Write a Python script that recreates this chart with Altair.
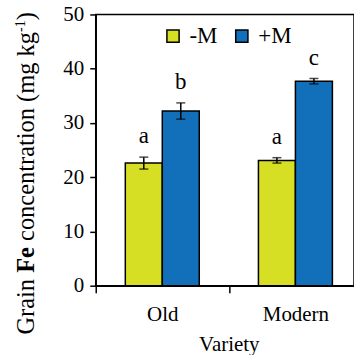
import altair as alt
import pandas as pd

# ---- data ----
varieties = ["Old", "Old", "Modern", "Modern"]
treatments = ["-M", "+M", "-M", "+M"]
values = [22.6, 32.2, 23.1, 37.7]
errors = [1.1, 1.5, 0.5, 0.5]
letters = ["a", "b", "a", "c"]
variety_order = ["Old", "Modern"]
treatment_order = ["-M", "+M"]
y_ticks = [0, 10, 20, 30, 40, 50]
colors = ["#d6df24", "#1170b9"]

df = pd.DataFrame({
    "variety": varieties,
    "treatment": treatments,
    "value": values,
    "err": errors,
    "letter": letters,
})
df["lo"] = df["value"] - df["err"]
df["hi"] = df["value"] + df["err"]

FONT = "Liberation Serif"
W, H = 259, 272

x_enc = alt.X(
    "variety:N",
    sort=variety_order,
    scale=alt.Scale(range=[0, 267], paddingInner=0, paddingOuter=0),
    axis=alt.Axis(
        title="Variety",
        labelAngle=0,
        tickBand="extent",
        tickSize=7,
        tickWidth=1.5,
        tickColor="black",
        domainColor="black",
        domainWidth=1.5,
        labelFont=FONT,
        labelFontSize=21,
        labelColor="black",
        labelPadding=11,
        titleFont=FONT,
        titleFontSize=21,
        titleFontWeight="normal",
        titleColor="black",
        titlePadding=9,
    ),
)
xoff_enc = alt.XOffset(
    "treatment:N",
    sort=treatment_order,
    scale=alt.Scale(paddingInner=0, paddingOuter=0.8),
)
y_scale = alt.Scale(domain=[0, 50], nice=False)

base = alt.Chart(df)

bars = base.mark_bar(stroke="black", strokeWidth=1.5).encode(
    x=x_enc,
    xOffset=xoff_enc,
    y=alt.Y(
        "value:Q",
        scale=y_scale,
        axis=alt.Axis(
            values=y_ticks,
            title=None,
            grid=False,
            tickSize=6,
            tickWidth=1.5,
            tickColor="black",
            domainColor="black",
            domainWidth=1.5,
            labelFont=FONT,
            labelFontSize=21,
            labelColor="black",
            labelPadding=6,
        ),
    ),
    color=alt.Color(
        "treatment:N",
        sort=treatment_order,
        scale=alt.Scale(domain=treatment_order, range=colors),
        legend=alt.Legend(
            orient="none",
            legendX=66,
            legendY=10,
            direction="horizontal",
            title=None,
            symbolType="square",
            symbolSize=150,
            symbolStrokeColor="black",
            symbolStrokeWidth=1.5,
            labelFont=FONT,
            labelFontSize=23,
            labelColor="black",
            labelOffset=5,
            columnPadding=12,
            padding=0,
        ),
    ),
)

rules = base.mark_rule(color="black", strokeWidth=1.5).encode(
    x=x_enc, xOffset=xoff_enc, y=alt.Y("lo:Q", scale=y_scale), y2="hi:Q"
)
cap_hi = base.mark_tick(orient="horizontal", size=9, thickness=1.5, color="black").encode(
    x=x_enc, xOffset=xoff_enc, y=alt.Y("hi:Q", scale=y_scale)
)
cap_lo = base.mark_tick(orient="horizontal", size=9, thickness=1.5, color="black").encode(
    x=x_enc, xOffset=xoff_enc, y=alt.Y("lo:Q", scale=y_scale)
)
letter_text = base.mark_text(
    font=FONT, fontSize=23, color="black", baseline="middle", dy=-21
).encode(x=x_enc, xOffset=xoff_enc, y=alt.Y("hi:Q", scale=y_scale), text="letter:N")

# ---- y-axis title with bold "Fe" and superscript -1 ----
one = pd.DataFrame({"k": [0]})
TX = -62
S = 24.5


def title_piece(txt, ypos, size=S, weight="normal", dx=0):
    return alt.Chart(one).mark_text(
        font=FONT, fontSize=size, fontWeight=weight, color="black",
        angle=270, align="left", baseline="alphabetic",
    ).encode(x=alt.value(TX + dx), y=alt.value(ypos), text=alt.value(txt))


y0 = 321
p1 = title_piece("Grain", y0)
y1 = y0 - 2.527 * S
p2 = title_piece("Fe", y1, weight="bold")
y2 = y1 - 1.305 * S
p3 = title_piece("concentration (mg kg", y2)
y3 = y2 - 8.554 * S
p4 = title_piece("-1", y3, size=14, dx=-9)
y4 = y3 - 0.833 * 14
p5 = title_piece(")", y4)

chart = (
    alt.layer(bars, rules, cap_hi, cap_lo, letter_text, p1, p2, p3, p4, p5)
    .properties(
        width=W,
        height=H,
        padding={"left": 96, "top": 14, "right": 0, "bottom": 69},
        autosize=alt.AutoSizeParams(type="none"),
        background="white",
    )
    .configure(font=FONT)
    .configure_axis(labelFont=FONT, titleFont=FONT)
    .configure_legend(labelFont=FONT)
    .configure_text(font=FONT)
    .configure_view(stroke="black", strokeWidth=1.5)
)

chart.save("out.html", embed_options={"renderer": "svg", "actions": False})
